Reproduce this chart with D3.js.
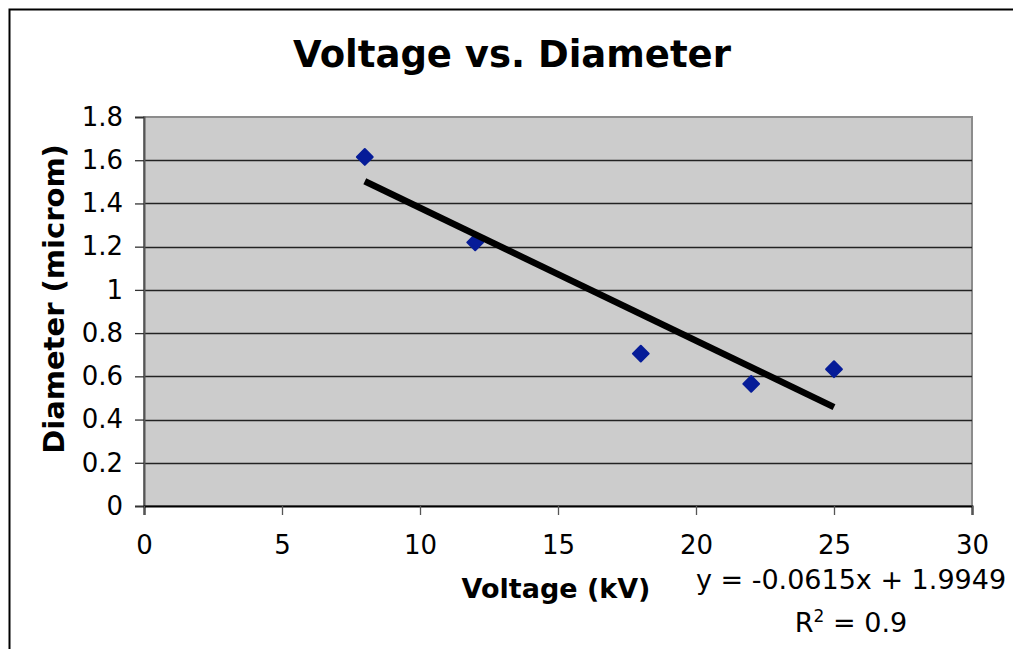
<!DOCTYPE html>
<html>
<head>
<meta charset="utf-8">
<script src="https://cdn.jsdelivr.net/npm/d3@7"></script>
<style>
  body { margin: 0; background: #fff; }
  text { font-family: "DejaVu Sans", Verdana, sans-serif; }
</style>
</head>
<body>
<div id="viz"></div>
<script>
// data
const voltage = [8, 12, 18, 22, 25];
const diameter = [1.615, 1.22, 0.705, 0.565, 0.633];
const xTickValues = [0, 5, 10, 15, 20, 25, 30];
const yTickValues = [0, 0.2, 0.4, 0.6, 0.8, 1, 1.2, 1.4, 1.6, 1.8];
const trendSlope = -0.0615;
const trendIntercept = 1.9949;
const trendRange = [8, 25];

const width = 1013, height = 649;
const plot = { left: 144, right: 972, top: 117, bottom: 506 };

const svg = d3.select('#viz').append('svg')
  .attr('width', width).attr('height', height);

// chart frame
svg.append('rect')
  .attr('x', 9.5).attr('y', 9.5)
  .attr('width', width + 20).attr('height', height + 20)
  .attr('fill', '#fff').attr('stroke', '#000').attr('stroke-width', 2);

const x = d3.scaleLinear().domain([0, 30]).range([plot.left, plot.right]);
const y = d3.scaleLinear().domain([0, 1.8]).range([plot.bottom, plot.top]);

// plot area
svg.append('rect')
  .attr('x', plot.left).attr('y', plot.top)
  .attr('width', plot.right - plot.left).attr('height', plot.bottom - plot.top)
  .attr('fill', '#cccccc').attr('stroke', '#8c8c8c').attr('stroke-width', 2);

// gridlines
svg.append('g').selectAll('line').data(yTickValues.filter(v => v > 0 && v < 1.8))
  .enter().append('line')
    .attr('x1', plot.left).attr('x2', plot.right)
    .attr('y1', d => Math.round(y(d)) + 0.5).attr('y2', d => Math.round(y(d)) + 0.5)
    .attr('stroke', '#222').attr('stroke-width', 1.3);

// axes
const yAxis = svg.append('g')
  .attr('transform', `translate(${plot.left}, 0)`)
  .call(d3.axisLeft(y).tickValues(yTickValues).tickSize(9).tickPadding(12).tickFormat(d3.format('~g')));
yAxis.select('.domain').attr('stroke', '#555').attr('stroke-width', 2);
yAxis.selectAll('.tick line').attr('stroke', '#333').attr('stroke-width', 1.3);
yAxis.selectAll('text').attr('font-size', 26).attr('fill', '#000')
  .attr('font-family', '"DejaVu Sans", Verdana, sans-serif');

const xAxis = svg.append('g')
  .attr('transform', `translate(0, ${plot.bottom})`)
  .call(d3.axisBottom(x).tickValues(xTickValues).tickSize(9).tickPadding(21));
xAxis.select('.domain').attr('stroke', '#000').attr('stroke-width', 2);
xAxis.selectAll('.tick line').attr('stroke', '#555').attr('stroke-width', 1.3);
xAxis.selectAll('text').attr('font-size', 26).attr('fill', '#000')
  .attr('font-family', '"DejaVu Sans", Verdana, sans-serif');

// points
svg.append('g').selectAll('path').data(voltage)
  .enter().append('path')
    .attr('d', d3.symbol().type(d3.symbolSquare).size(125))
    .attr('transform', (d, i) => `translate(${x(d)}, ${y(diameter[i])}) rotate(45)`)
    .attr('fill', '#061c98').attr('stroke', '#061c98')
    .attr('stroke-width', 2).attr('stroke-linejoin', 'round');

// trendline
svg.append('line')
  .attr('x1', x(trendRange[0])).attr('y1', y(trendSlope * trendRange[0] + trendIntercept))
  .attr('x2', x(trendRange[1])).attr('y2', y(trendSlope * trendRange[1] + trendIntercept))
  .attr('stroke', '#000').attr('stroke-width', 6.5);

// titles
svg.append('text')
  .attr('x', 512).attr('y', 67).attr('text-anchor', 'middle')
  .attr('font-size', 37).attr('font-weight', 'bold')
  .text('Voltage vs. Diameter');

svg.append('text')
  .attr('transform', 'translate(64, 299) rotate(-90)')
  .attr('text-anchor', 'middle')
  .attr('font-size', 29).attr('font-weight', 'bold')
  .text('Diameter (microm)');

svg.append('text')
  .attr('x', 556).attr('y', 598).attr('text-anchor', 'middle')
  .attr('font-size', 27).attr('font-weight', 'bold')
  .text('Voltage (kV)');

// trendline label
svg.append('text')
  .attr('x', 851).attr('y', 589).attr('text-anchor', 'middle')
  .attr('font-size', 27)
  .text(`y = ${trendSlope}x + ${trendIntercept}`);

const r2 = svg.append('text')
  .attr('x', 851).attr('y', 632).attr('text-anchor', 'middle')
  .attr('font-size', 27);
r2.append('tspan').text('R');
r2.append('tspan').attr('baseline-shift', 'super').attr('font-size', 17).text('2');
r2.append('tspan').text(' = 0.9');
</script>
</body>
</html>
